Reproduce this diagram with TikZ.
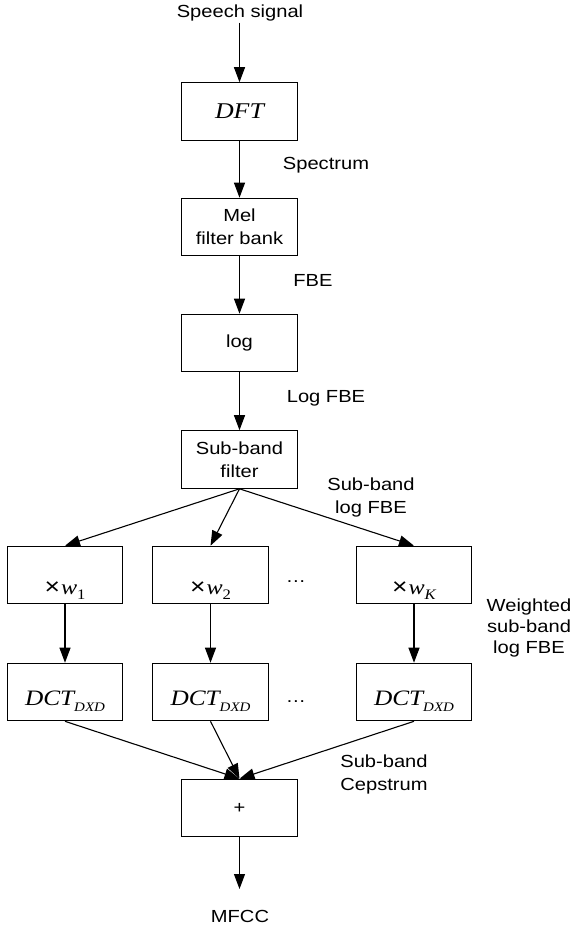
\documentclass[tikz,border=0pt]{standalone}
\usepackage{fontspec}
\setmainfont{Liberation Sans}[FakeStretch=1.15]
\newfontfamily\tnr{Liberation Serif}[FakeStretch=1.15]
\usetikzlibrary{arrows.meta}
\newcommand\lblfont{\fontsize{17.5}{23}\selectfont}
\newcommand\wlblfont{\fontsize{17.5}{21}\selectfont}
\newcommand\wt[1]{{\fontsize{23}{23}\selectfont ×}\hspace{1pt}{\tnr\itshape\fontsize{21}{21}\selectfont w}\raisebox{-5pt}{\tnr\fontsize{14.5}{14.5}\selectfont #1}}
\newcommand\dctd{{\tnr\itshape\fontsize{22}{22}\selectfont DCT}\raisebox{-6pt}{\tnr\itshape\fontsize{13}{13}\selectfont DXD}}
\begin{document}
\begin{tikzpicture}[x=1pt,y=-1pt,
  box/.style={draw, line width=1.1pt, minimum width=115.5pt, minimum height=57.5pt, inner sep=0pt, font=\lblfont},
  lbl/.style={inner sep=0pt, font=\lblfont},
  arr/.style={line width=1.1pt, -{Triangle[length=15pt,width=11pt]}}]
\useasboundingbox (0,0) rectangle (574,932);
% boxes
\node[box] (dft) at (239.5,111.5) {{\tnr\itshape\fontsize{22.5}{22.5}\selectfont DFT}};
\node[box, align=center] (mel) at (239.5,227) {Mel\\filter bank};
\node[box] (logb) at (239.5,343) {log};
\node[box, align=center] (sbf) at (239.5,459.5) {Sub-band\\filter};
\node[box, text height=38pt, text depth=0pt] (w1) at (65,575) {\wt{1}};
\node[box, text height=38pt, text depth=0pt] (w2) at (210.5,575) {\wt{2}};
\node[box, text height=38pt, text depth=0pt] (wk) at (414,575) {\wt{\itshape K}};
\node[box, text height=26pt, text depth=0pt] (d1) at (65,692) {\dctd};
\node[box, text height=26pt, text depth=0pt] (d2) at (210.5,692) {\dctd};
\node[box, text height=26pt, text depth=0pt] (dk) at (414,692) {\dctd};
\node[box] (plus) at (239.5,808) {+};
% labels
\node[lbl, anchor=base] (speech) at (240,17.5) {Speech signal};
\node[lbl, anchor=base] (spec) at (326,169) {Spectrum};
\node[lbl, anchor=base] (fbe) at (313,286) {FBE};
\node[lbl, anchor=base] (logfbe) at (326,402.7) {Log FBE};
\node[lbl, align=center, anchor=north] (sblf) at (371,477) {\rule{0pt}{13pt}Sub-band\\log FBE};
\node[lbl, align=center, anchor=north, font=\wlblfont] (wsb) at (529,598.7) {\rule{0pt}{13pt}Weighted\\sub-band\\log FBE};
\node[lbl, align=center, anchor=north] (sbc) at (384,754.3) {\rule{0pt}{13pt}Sub-band\\Cepstrum};
\node[lbl, anchor=base] (mfcc) at (240,922.7) {MFCC};
\node[lbl, anchor=base] (dots1) at (296,582) {…};
\node[lbl, anchor=base] (dots2) at (296,702) {…};
% connectors
\coordinate (in) at (239.5,22.5);
\coordinate (out) at (239.5,889);
\draw[arr] (in) -- (dft.north);
\draw[arr] (dft) -- (mel);
\draw[arr] (mel) -- (logb);
\draw[arr] (logb) -- (sbf);
\draw[arr] (sbf.south) -- (w1.north);
\draw[arr] (sbf.south) -- (w2.north);
\draw[arr] (sbf.south) -- (wk.north);
\draw[arr] (w1) -- (d1);
\draw[arr] (w2) -- (d2);
\draw[arr] (wk) -- (dk);
\draw[arr] (d1.south) -- (plus.north);
\draw[arr] (d2.south) -- (plus.north);
\draw[arr] (dk.south) -- (plus.north);
\draw[arr] (plus) -- (out);
\end{tikzpicture}
\end{document}
